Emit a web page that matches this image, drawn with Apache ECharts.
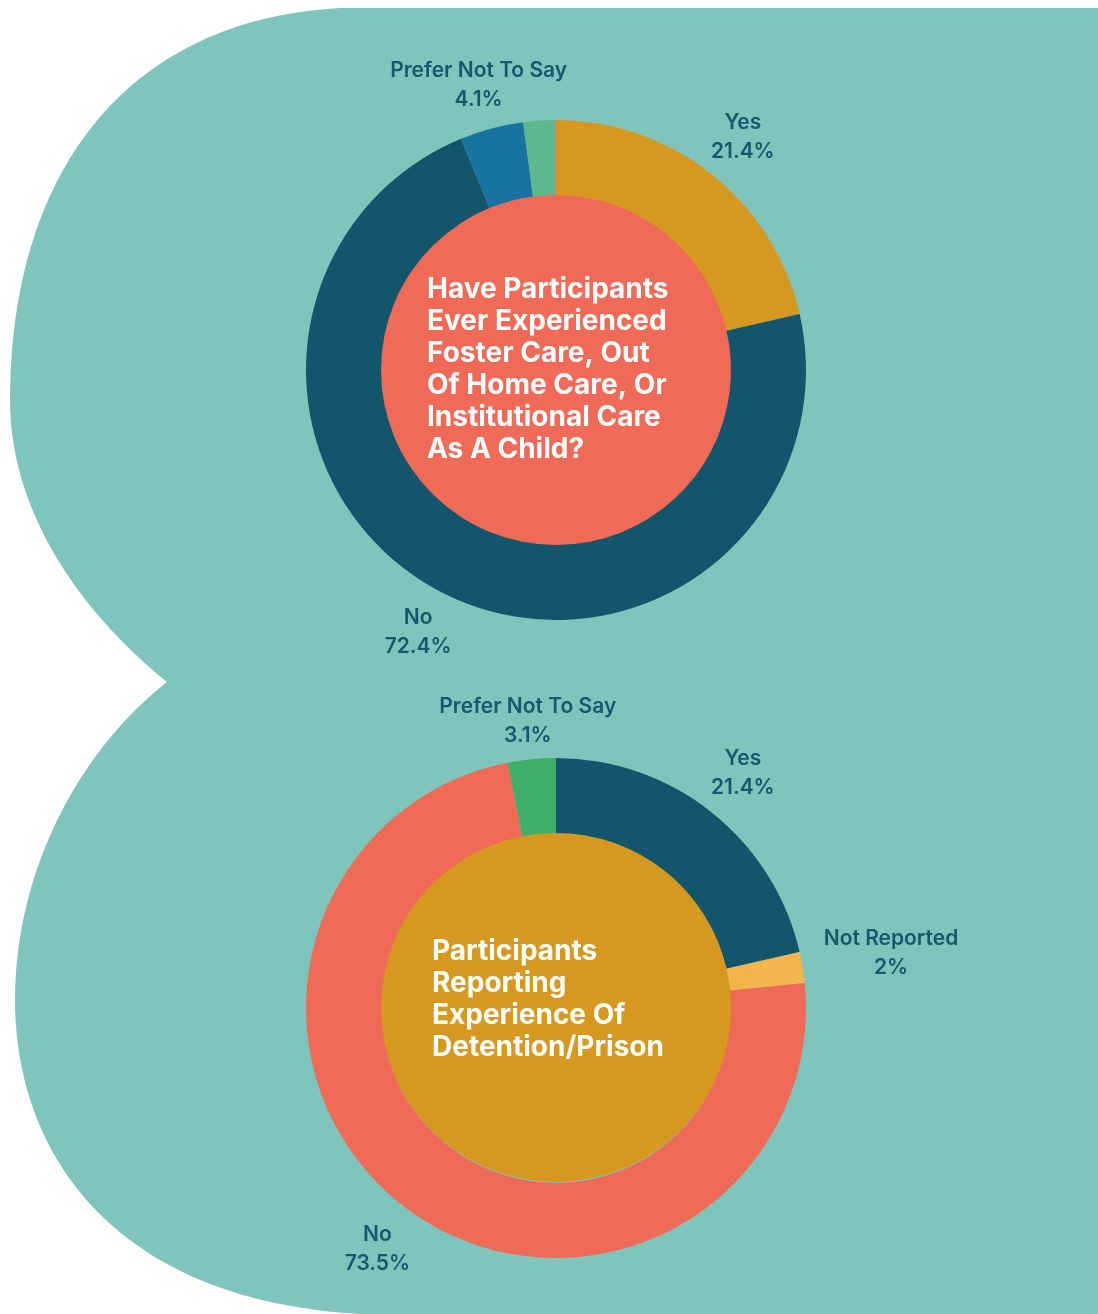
<!DOCTYPE html>
<html>
<head>
<meta charset="utf-8">
<script src="https://cdn.jsdelivr.net/npm/echarts@6/dist/echarts.min.js"></script>
<style>
  html, body { margin: 0; padding: 0; background: #ffffff; }
  #chart { width: 1098px; height: 1314px; }
</style>
</head>
<body>
<div id="chart"></div>
<script>
// ---- Data ----
const careCategories = ['Yes', 'No', 'Prefer Not To Say', 'Not Reported'];
const careValues = [21.4, 72.4, 4.1, 2.1];
const careLabelShown = [true, true, true, false];
const careTitle = 'Have Participants\nEver Experienced\nFoster Care, Out\nOf Home Care, Or\nInstitutional Care\nAs A Child?';

const prisonCategories = ['Yes', 'Not Reported', 'No', 'Prefer Not To Say'];
const prisonValues = [21.4, 2, 73.5, 3.1];
const prisonTitle = 'Participants\nReporting\nExperience Of\nDetention/Prison';

// ---- Style ----
const careColors = ['#D6981F', '#13566B', '#1873A0', '#5DB98D'];
const prisonColors = ['#13566B', '#F2B64C', '#EF6B58', '#3FAE68'];
const labelColor = '#16596E';
const FONT = 'Inter';

// background decorative outline (cubic bezier segments), sampled into a polygon
const bgSegments = [
  [[340, 8], [120, 20], [10, 180], [10, 400]],
  [[10, 400], [10, 520], [90, 620], [167, 682]],
  [[167, 682], [80, 750], [15, 870], [15, 1000]],
  [[15, 1000], [15, 1150], [110, 1300], [360, 1314]]
];
function bgPoints() {
  const pts = [[1098, 8]];
  bgSegments.forEach(s => {
    for (let k = 0; k <= 40; k++) {
      const t = k / 40, u = 1 - t;
      const a = u * u * u, b = 3 * u * u * t, c = 3 * u * t * t, d = t * t * t;
      pts.push([a * s[0][0] + b * s[1][0] + c * s[2][0] + d * s[3][0],
                a * s[0][1] + b * s[1][1] + c * s[2][1] + d * s[3][1]]);
    }
  });
  pts.push([1098, 1314]);
  return pts;
}

const chart = echarts.init(document.getElementById('chart'), null, { renderer: 'canvas' });

function ringData(cats, vals, colors) {
  return cats.map((c, i) => ({ name: c, value: vals[i], itemStyle: { color: colors[i] } }));
}
function labelData(cats, vals, shown) {
  return cats.map((c, i) => ({
    name: c, value: vals[i],
    label: { show: shown ? shown[i] : true }
  }));
}
const labelStyle = {
  position: 'inside',
  formatter: p => p.name + '\n' + p.value + '%',
  color: labelColor,
  fontFamily: FONT,
  fontWeight: 600,
  fontSize: 21,
  lineHeight: 29,
  align: 'center'
};
const titleStyle = { color: '#ffffff', fontFamily: FONT, fontWeight: 700, fontSize: 28, lineHeight: 32 };

const option = {
  backgroundColor: '#ffffff',
  animation: false,
  graphic: [{
    type: 'polygon',
    z: -10,
    silent: true,
    shape: { points: bgPoints() },
    style: { fill: '#80C5BB' }
  }],
  title: [{
    text: careTitle, padding: 0,
    left: 427, top: 274,
    textStyle: titleStyle
  }, {
    text: prisonTitle, padding: 0,
    left: 432, top: 936,
    textStyle: titleStyle
  }],
  series: [
    {
      type: 'pie', silent: true, center: [556, 370], radius: [0, 176],
      label: { show: false }, labelLine: { show: false },
      data: [{ value: 1, name: 'center', itemStyle: { color: '#EF6B58' } }]
    },
    {
      type: 'pie', silent: true, center: [556, 370], radius: [175, 250],
      startAngle: 90, clockwise: true,
      label: { show: false }, labelLine: { show: false },
      data: ringData(careCategories, careValues, careColors)
    },
    {
      type: 'pie', silent: true, center: [556, 370], radius: [290, 304],
      startAngle: 90, clockwise: true,
      itemStyle: { color: 'rgba(0,0,0,0)' },
      label: labelStyle, labelLine: { show: false },
      labelLayout: p => {
        if (p.dataIndex === 2) return { dy: 5 };
        if (p.dataIndex === 1) return { dy: -4 };
        if (p.dataIndex === 0) return { dy: 2 };
        return {};
      },
      data: labelData(careCategories, careValues, careLabelShown)
    },
    {
      type: 'pie', silent: true, center: [556, 1006], radius: [0, 176],
      label: { show: false }, labelLine: { show: false },
      data: [{ value: 1, name: 'center', itemStyle: { color: '#D6981F' } }]
    },
    {
      type: 'pie', silent: true, center: [556, 1008], radius: [175, 250],
      startAngle: 90, clockwise: true,
      label: { show: false }, labelLine: { show: false },
      data: ringData(prisonCategories, prisonValues, prisonColors)
    },
    {
      type: 'pie', silent: true, center: [556, 1008], radius: [290, 304],
      startAngle: 90, clockwise: true,
      itemStyle: { color: 'rgba(0,0,0,0)' },
      label: labelStyle, labelLine: { show: false },
      labelLayout: p => {
        if (p.dataIndex === 1) return { dx: 39, dy: -6 };
        if (p.dataIndex === 3) return { dx: 1, dy: 12 };
        return {};
      },
      data: labelData(prisonCategories, prisonValues)
    }
  ]
};
chart.setOption(option);
</script>
</body>
</html>
